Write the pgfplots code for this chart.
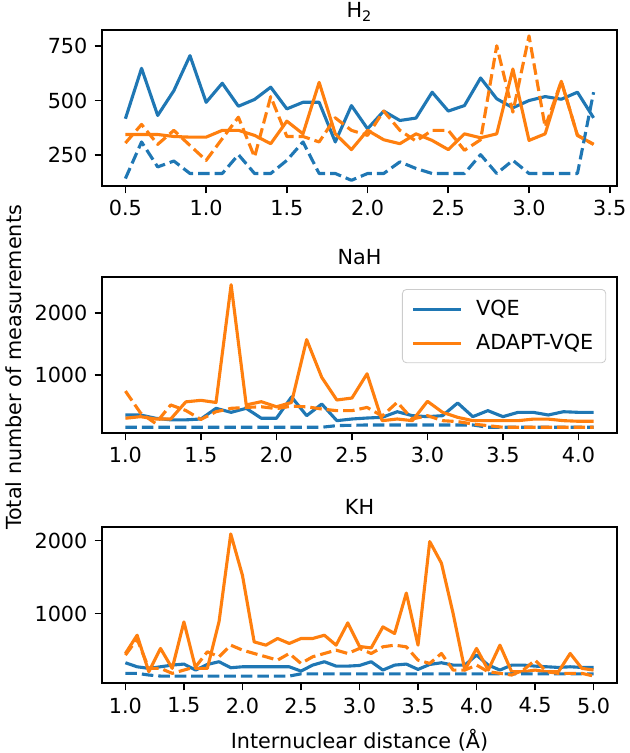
\documentclass[border=0pt]{standalone}
\usepackage{fontspec}
\setmainfont{DejaVu Sans}
\usepackage{pgfplots}
\usepackage{pgfplotstable}
\pgfplotsset{compat=1.18}
\definecolor{c0}{HTML}{1F77B4}
\definecolor{c1}{HTML}{FF7F0E}

\pgfplotstableread{
x vs vd as ad
0.5 417 144 345 306
0.6 647 311 345 391
0.7 432 197 345 300
0.8 545 224 336 364
0.9 705 167 333 295
1.0 492 167 333 227
1.1 579 167 364 326
1.2 474 253 364 424
1.3 505 167 341 242
1.4 561 167 303 518
1.5 462 227 406 336
1.6 492 311 348 336
1.7 492 167 583 311
1.8 311 167 348 421
1.9 477 136 276 364
2.0 371 167 364 341
2.1 452 167 321 452
2.2 409 220 303 364
2.3 420 190 348 315
2.4 538 167 318 364
2.5 452 167 276 364
2.6 477 167 348 273
2.7 603 253 330 321
2.8 508 167 348 750
2.9 467 227 644 447
3.0 500 167 318 795
3.1 518 167 348 379
3.2 506 167 588 588
3.3 538 167 341 341
3.4 421 538 300 300
}\tabH

\pgfplotstableread{
x vs vd as ad
1.0 347 148 294 735
1.1 347 148 320 380
1.2 294 148 282 210
1.3 268 148 282 510
1.4 268 148 560 420
1.5 282 148 585 275
1.6 455 148 550 400
1.7 390 148 2460 455
1.8 455 148 510 470
1.9 294 148 563 480
2.0 294 148 480 450
2.1 640 148 550 490
2.2 336 148 1570 480
2.3 525 148 958 444
2.4 255 175 590 417
2.5 282 180 622 417
2.6 298 185 1015 470
2.7 309 185 255 330
2.8 400 185 282 553
2.9 336 185 255 282
3.0 320 185 569 336
3.1 336 185 390 255
3.2 542 185 309 240
3.3 320 185 255 201
3.4 417 148 255 174
3.5 320 148 255 148
3.6 390 148 255 148
3.7 390 148 280 148
3.8 347 148 280 148
3.9 400 148 255 148
4.0 390 148 245 148
4.1 390 148 245 148
}\tabNa

\pgfplotstableread{
x vs vd as ad
1.0 327 182 454 432
1.1 272 182 704 650
1.2 250 159 204 250
1.3 272 145 523 250
1.4 295 145 250 182
1.5 309 145 886 227
1.6 227 145 250 272
1.7 304 145 250 477
1.8 341 145 890 409
1.9 259 145 2090 568
2.0 272 145 1523 500
2.1 272 145 613 454
2.2 272 145 568 409
2.3 272 145 659 363
2.4 272 145 591 454
2.5 213 175 659 318
2.6 295 175 659 409
2.7 341 175 704 454
2.8 281 175 568 500
2.9 281 175 873 454
3.0 290 175 550 523
3.1 341 175 530 454
3.2 227 175 818 545
3.3 295 175 727 568
3.4 309 175 1281 545
3.5 236 175 568 363
3.6 304 175 1986 318
3.7 327 175 1690 454
3.8 295 175 1000 227
3.9 295 175 227 227
4.0 432 175 523 295
4.1 295 175 227 204
4.2 227 175 568 182
4.3 295 175 204 159
4.4 295 175 204 227
4.5 281 175 227 363
4.6 272 175 204 204
4.7 263 175 204 182
4.8 272 175 454 182
4.9 263 175 250 182
5.0 263 175 227 145
}\tabK

\pgfplotsset{
  panel/.style={
    width=247.2bp, height=74.88bp, scale only axis,
    anchor=south west,
    tick align=outside, major tick length=3.5pt,
    xtick pos=left, ytick pos=left,
    axis line style={line width=0.8pt},
    major tick style={line width=0.8pt, black},
    /pgf/number format/assume math mode=true,
    /pgf/number format/1000 sep={},
    scaled ticks=false,
    x tick label style={/pgf/number format/fixed, /pgf/number format/fixed zerofill, /pgf/number format/precision=1},
    title style={at={(axis description cs:0.5,1)}, anchor=base},
    every axis plot/.append style={line width=1.5pt, line join=round},
    legend image code/.code={\draw[##1] (0pt,0pt) -- (23pt,0pt);},
  },
  sv/.style={c0},
  sa/.style={c1},
  dv/.style={c0, dash pattern=on 5.55pt off 2.4pt},
  da/.style={c1, dash pattern=on 5.55pt off 2.4pt},
}

\begin{document}
\begin{tikzpicture}
\path[use as bounding box] (0,0) rectangle (302.4bp,361.44bp);

\begin{axis}[panel, at={(48.96bp,272.16bp)},
  title={H\textsubscript{2}},
  xmin=0.355, xmax=3.545, ymin=110, ymax=822,
  xtick={0.5,1.0,1.5,2.0,2.5,3.0,3.5}, ytick={250,500,750}]
\addplot[sv] table[x=x,y=vs] {\tabH};
\addplot[sa] table[x=x,y=as] {\tabH};
\addplot[dv] table[x=x,y=vd] {\tabH};
\addplot[da] table[x=x,y=ad] {\tabH};
\end{axis}

\begin{axis}[panel, at={(48.96bp,153.6bp)},
  title={NaH},
  xmin=0.845, xmax=4.255, ymin=55, ymax=2585,
  xtick={1.0,1.5,2.0,2.5,3.0,3.5,4.0}, ytick={1000,2000},
  ylabel={Total number of measurements},
  ylabel style={at={(axis description cs:-0.171,0.42)}, anchor=center},
  legend style={at={(axis description cs:0.979,0.923)}, anchor=north east,
    draw=black!20, rounded corners=2pt, fill=white, fill opacity=0.8, text opacity=1, draw opacity=1,
    inner xsep=4.5pt, inner ysep=3.5pt, row sep=4.5pt,
    nodes={inner sep=1.5pt},
    /tikz/every odd column/.append style={column sep=5pt}},
  legend cell align=left]
\addplot[sv] table[x=x,y=vs] {\tabNa};
\addlegendentry{VQE}
\addplot[sa] table[x=x,y=as] {\tabNa};
\addlegendentry{ADAPT-VQE}
\addplot[dv, forget plot] table[x=x,y=vd] {\tabNa};
\addplot[da, forget plot] table[x=x,y=ad] {\tabNa};
\end{axis}

\begin{axis}[panel, at={(48.96bp,33.6bp)},
  title={KH},
  xmin=0.8, xmax=5.2, ymin=50, ymax=2185,
  xtick={1.0,1.5,2.0,2.5,3.0,3.5,4.0,4.5,5.0}, ytick={1000,2000},
  xlabel={Internuclear distance (Å)},
  xlabel style={at={(axis description cs:0.5,-0.365)}, anchor=center}]
\addplot[sv] table[x=x,y=vs] {\tabK};
\addplot[sa] table[x=x,y=as] {\tabK};
\addplot[dv] table[x=x,y=vd] {\tabK};
\addplot[da] table[x=x,y=ad] {\tabK};
\end{axis}
\end{tikzpicture}
\end{document}
